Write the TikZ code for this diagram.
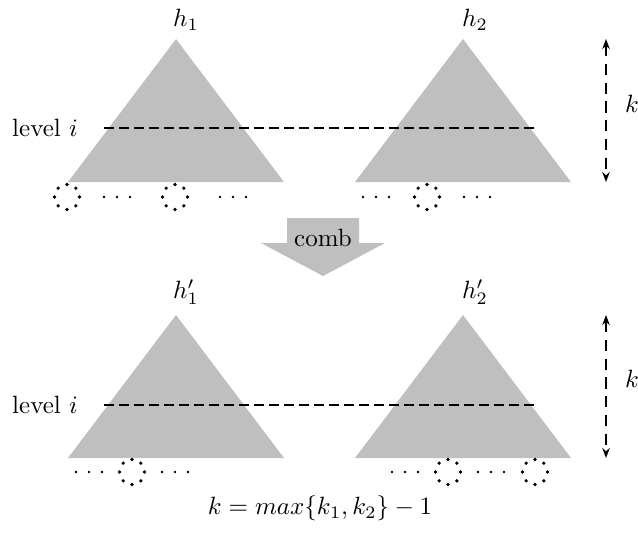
\documentclass[tikz,border=0pt]{standalone}
\usetikzlibrary{arrows.meta}
\begin{document}
\begin{tikzpicture}[x=0.4pt,y=-0.4pt,
  tri/.style={fill=black!25,draw=none},
  lvl/.style={line width=0.7pt,dash pattern=on 4pt off 2pt},
  karrow/.style={line width=0.7pt,dash pattern=on 4.5pt off 3pt,{Stealth[length=4pt,width=3pt]}-{Stealth[length=4pt,width=3pt]}},
  lbl/.style={inner sep=0pt}]
\useasboundingbox (0,0) rectangle (638,536);
% triangles
\foreach \n/\x/\y in {a/176/39,b/463/39,c/176/315,d/463/315}{
  \coordinate (apex\n) at (\x,\y);
  \fill[tri] (apex\n) -- ++(-108,143) -- ++(216,0) -- cycle;
}
% level lines
\coordinate (l1s) at (104,128); \coordinate (l1e) at (535,128);
\coordinate (l2s) at (104,405); \coordinate (l2e) at (535,405);
\draw[lvl] (l1s) -- (l1e);
\draw[lvl] (l2s) -- (l2e);
\node[lbl] (lev1) at (45,128) {level $i$};
\node[lbl] (lev2) at (45,405) {level $i$};
% labels
\node[lbl] (h1) at (186,20) {$h_1$};
\node[lbl] (h2) at (475,20) {$h_2$};
\node[lbl] (h1p) at (186,292) {$h_1'$};
\node[lbl] (h2p) at (475,292) {$h_2'$};
% dotted circles
\foreach \x/\y in {67/197,175/197,427/197,132/472,448/472,535/472}{
  \foreach \a in {0,45,...,315}{\fill (\x,\y) ++(\a:12.5) circle (1.8);}
}
% ellipses
\foreach \x/\y in {117/197,233/197,376/197,477/197,89/472,175/472,405/472,491/472}{
  \foreach \d in {-13,0,13}{\fill (\x+\d,\y) circle (1.3);}
}
% k arrows
\coordinate (k1t) at (606,39); \coordinate (k1b) at (606,182);
\coordinate (k2t) at (606,315); \coordinate (k2b) at (606,458);
\draw[karrow] (k1t) -- (k1b);
\draw[karrow] (k2t) -- (k2b);
\node[lbl] (k1) at (632,104) {$k$};
\node[lbl] (k2) at (632,379) {$k$};
% comb arrow
\fill[tri] (287,218) -- (359,218) -- (359,243) -- (385,243) -- (323,276) -- (261,243) -- (287,243) -- cycle;
\node[lbl] (comb) at (323,238) {comb};
% formula
\node[lbl] (form) at (320,508) {$k = max\{k_1, k_2\} - 1$};
\end{tikzpicture}
\end{document}
